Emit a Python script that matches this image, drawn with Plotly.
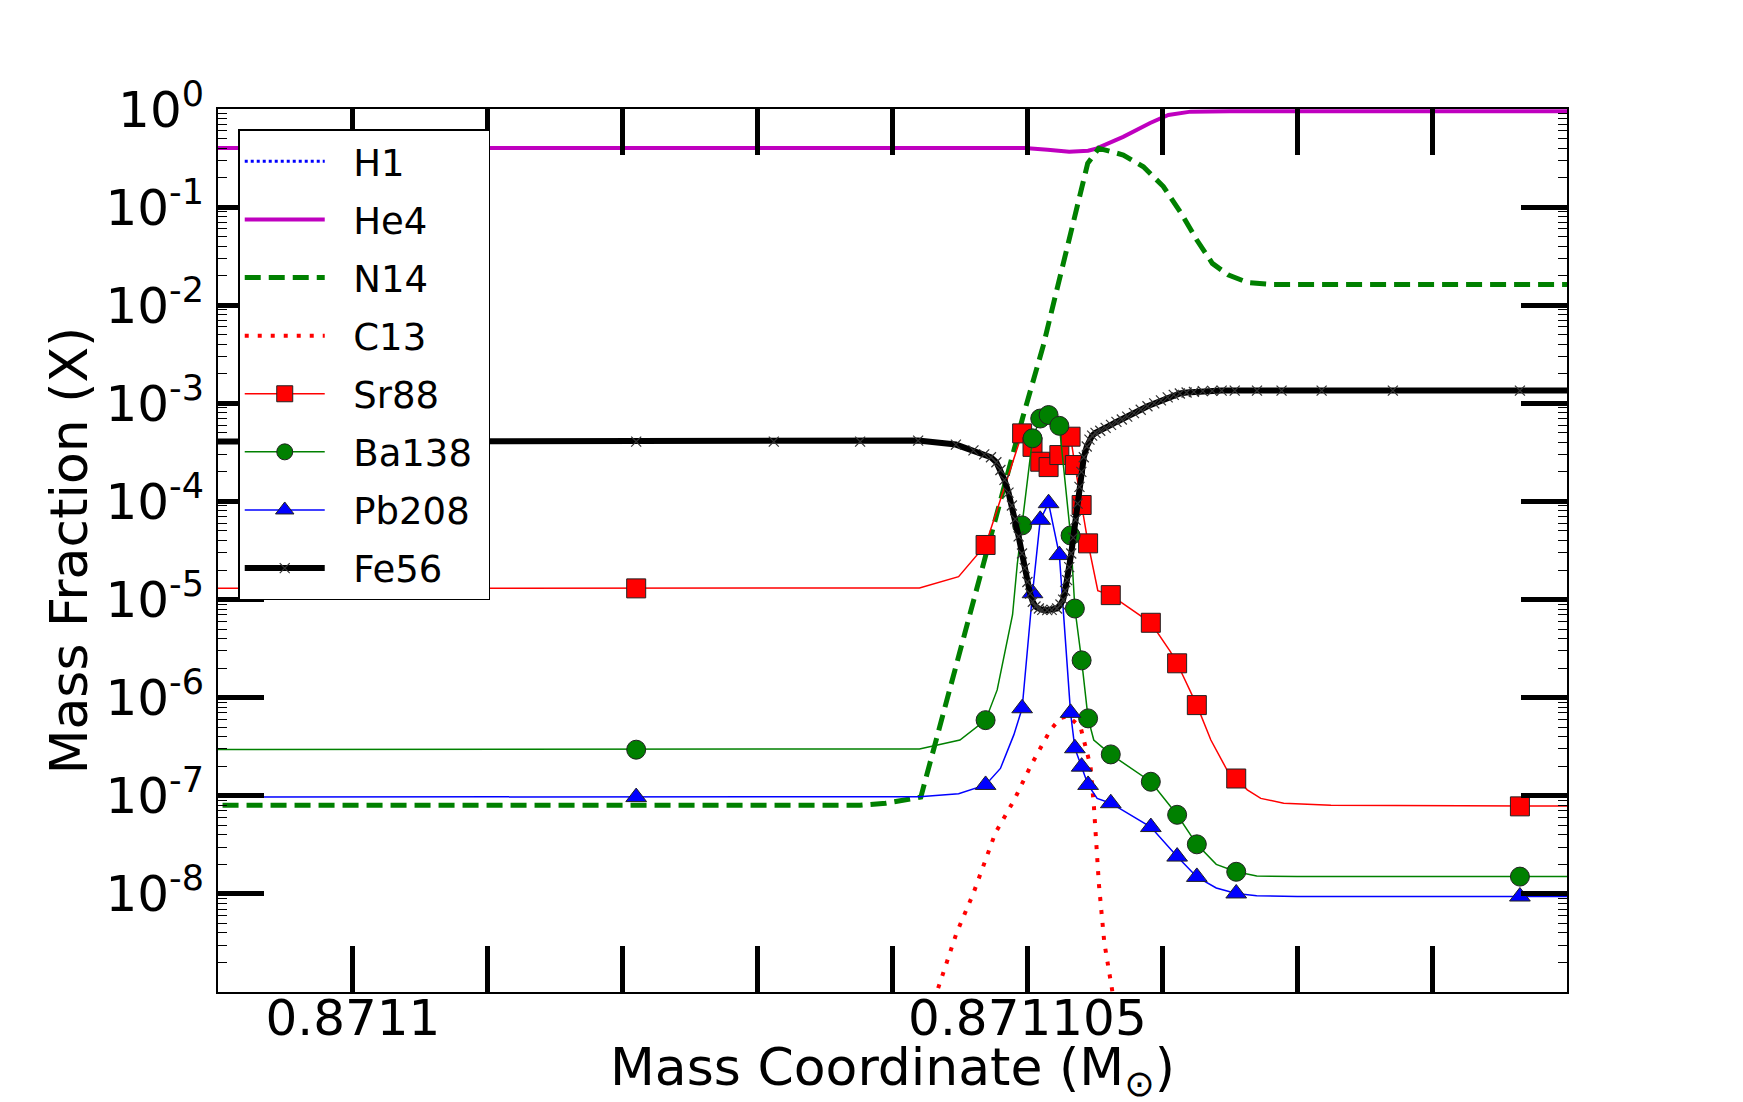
import plotly.graph_objects as go

# mass coordinate is stored as offset from M0 in units of DM (1e-6 Msun)
M0 = 0.8711
DM = 1e-6

# zones where matplotlib put the s-process markers (every Nth zone)
mark_off = [2.10, 4.69, 4.961, 5.038, 5.095, 5.157, 5.237, 5.32, 5.352,
            5.402, 5.45, 5.618, 5.915, 6.11, 6.256, 6.548, 8.651]

sr88_mark = [1.3e-5, 3.6e-5, 4.94e-4, 3.6e-4, 2.54e-4, 2.24e-4, 2.97e-4, 4.57e-4, 2.35e-4,
             9.2e-5, 3.74e-5, 1.11e-5, 5.8e-6, 2.24e-6, 8.4e-7, 1.5e-7, 7.8e-8]
ba138_mark = [2.95e-7, 5.9e-7, 5.7e-5, 4.4e-4, 7.0e-4, 7.6e-4, 5.9e-4, 4.5e-5, 8.1e-6,
              2.4e-6, 6.15e-7, 2.64e-7, 1.39e-7, 6.4e-8, 3.2e-8, 1.68e-8, 1.5e-8]
pb208_mark = [9.7e-8, 1.29e-7, 7.8e-7, 1.16e-5, 6.5e-5, 9.6e-5, 2.84e-5, 7.0e-7, 3.05e-7,
              1.98e-7, 1.29e-7, 8.4e-8, 4.8e-8, 2.4e-8, 1.49e-8, 1.01e-8, 9.4e-9]

# zones in between markers (line only)
sr88_off = [-1.5, 3.12, 3.76, 4.20, 4.49, 5.522, 6.06, 6.36, 6.48, 6.63, 6.73, 6.90, 7.25, 9.5]
sr88_val = [1.3e-5, 1.3e-5, 1.3e-5, 1.31e-5, 1.71e-5, 1.23e-5, 2.95e-6, 3.7e-7, 1.83e-7,
            1.15e-7, 9.4e-8, 8.4e-8, 8.0e-8, 7.8e-8]
ba138_off = [-1.5, 3.12, 3.76, 4.20, 4.50, 4.776, 4.85, 4.89, 4.925, 5.492, 6.40, 6.70, 7.0, 9.5]
ba138_val = [2.95e-7, 2.95e-7, 2.95e-7, 3.0e-7, 3.7e-7, 1.2e-6, 4.0e-6, 7.0e-6, 2.3e-5,
             3.7e-7, 2.0e-8, 1.52e-8, 1.5e-8, 1.5e-8]
pb208_off = [-1.5, 3.12, 3.76, 4.20, 4.49, 4.80, 4.90, 5.517, 6.40, 6.70, 7.0, 9.5]
pb208_val = [9.7e-8, 9.7e-8, 9.7e-8, 9.8e-8, 1.05e-7, 1.9e-7, 4.2e-7, 9.4e-8, 1.15e-8,
             9.6e-9, 9.4e-9, 9.4e-9]

h1_off = [-1.5, 9.5]
h1_val = [0.0, 0.0]

he4_off = [-1.5, 2.10, 4.5, 4.98, 5.15, 5.31, 5.45, 5.51, 5.71, 5.91, 6.045, 6.21, 6.5, 9.5]
he4_val = [0.40, 0.40, 0.40, 0.40, 0.385, 0.367, 0.375, 0.395, 0.52, 0.72, 0.87, 0.94, 0.95, 0.95]

n14_off = [-1.5, 2.10, 3.12, 3.76, 3.95, 4.21, 4.967, 5.116, 5.248, 5.364, 5.447, 5.529,
           5.711, 5.86, 6.008, 6.14, 6.256, 6.371, 6.487, 6.636, 6.801, 9.0]
n14_val = [8.0e-8, 8.0e-8, 8.0e-8, 8.0e-8, 8.4e-8, 9.7e-8, 7.3e-4, 3.8e-3, 0.0211, 0.101, 0.279, 0.398,
           0.34, 0.258, 0.162, 0.0865, 0.0462, 0.0267, 0.0204, 0.0170, 0.0163, 0.0163]

c13_off = [4.20, 4.334, 4.475, 4.598, 4.763, 4.903, 5.023, 5.171, 5.245, 5.30, 5.394, 5.418,
           5.468, 5.493, 5.51, 5.53, 5.57, 5.628, 5.66]
c13_val = [3.5e-10, 1.05e-9, 4.0e-9, 1.0e-8, 4.2e-8, 9.1e-8, 2.0e-7, 4.7e-7, 6.2e-7, 6.5e-7,
           5.0e-7, 3.7e-7, 2.0e-7, 7.8e-8, 3.0e-8, 1.26e-8, 3.2e-9, 1.05e-9, 4.0e-10]

fe56_off = [-1.5, 2.10, 3.12, 3.76, 4.19, 4.47, 4.60, 4.68, 4.73, 4.77, 4.80, 4.83, 4.86,
            4.885, 4.91, 4.935, 4.96, 4.98, 5.00, 5.02, 5.04, 5.06, 5.085, 5.11, 5.147,
            5.18, 5.22, 5.245, 5.265, 5.28, 5.295, 5.31, 5.325, 5.34, 5.357, 5.372, 5.386,
            5.40, 5.418, 5.44, 5.46, 5.48, 5.505, 5.54, 5.58, 5.62, 5.66, 5.70, 5.74, 5.79,
            5.84, 5.89, 5.94, 5.99, 6.04, 6.085, 6.13, 6.18, 6.234, 6.30, 6.37, 6.44,
            6.537, 6.702, 6.884, 7.181, 7.709, 8.651, 9.5]
fe56_val = [4.07e-4, 4.07e-4, 4.07e-4, 4.07e-4, 4.17e-4, 3.80e-4, 3.31e-4, 3.02e-4, 2.82e-4,
            2.51e-4, 2.09e-4, 1.66e-4, 1.23e-4, 9.1e-5, 6.6e-5, 4.4e-5, 2.95e-5, 2.09e-5,
            1.51e-5, 1.15e-5, 9.5e-6, 8.5e-6, 8.1e-6, 7.85e-6, 7.8e-6, 7.85e-6, 8.1e-6,
            8.9e-6, 1.0e-5, 1.23e-5, 1.58e-5, 2.14e-5, 2.95e-5, 4.27e-5, 6.5e-5, 9.5e-5,
            1.41e-4, 2.0e-4, 2.82e-4, 3.63e-4, 4.27e-4, 4.68e-4, 5.0e-4, 5.25e-4, 5.62e-4,
            6.03e-4, 6.46e-4, 6.84e-4, 7.33e-4, 7.94e-4, 8.61e-4, 9.33e-4, 1.0e-3, 1.07e-3,
            1.15e-3, 1.22e-3, 1.26e-3, 1.29e-3, 1.31e-3, 1.33e-3, 1.34e-3, 1.35e-3,
            1.35e-3, 1.35e-3, 1.35e-3, 1.35e-3, 1.35e-3, 1.35e-3, 1.35e-3]

ytick_vals = [1e0, 1e-1, 1e-2, 1e-3, 1e-4, 1e-5, 1e-6, 1e-7, 1e-8]
ytick_text = ["10<sup>0</sup>", "10<sup>-1</sup>", "10<sup>-2</sup>", "10<sup>-3</sup>",
              "10<sup>-4</sup>", "10<sup>-5</sup>", "10<sup>-6</sup>", "10<sup>-7</sup>",
              "10<sup>-8</sup>"]
xtick_off = [-1, 0, 1, 2, 3, 4, 5, 6, 7, 8, 9]
xtick_text = ["", "0.8711", "", "", "", "", "0.871105", "", "", "", ""]


def mass(off):
    return [M0 + o * DM for o in off]


FONT = "DejaVu Sans"
SP = "\u00a0"


def label(name):
    # pad legend text so the box spacing looks like the matplotlib legend
    return SP * 2 + name + SP


fig = go.Figure()

# plain line species
plain = [
    ("H1", h1_off, h1_val, dict(color="#0000ff", width=3, dash="3px,3px")),
    ("He4", he4_off, he4_val, dict(color="#bf00bf", width=4)),
    ("N14", n14_off, n14_val, dict(color="#008000", width=5, dash="16px,8px")),
    ("C13", c13_off, c13_val, dict(color="#ff0000", width=4, dash="4px,9px")),
]
for name, off, val, line in plain:
    fig.add_trace(go.Scatter(x=mass(off), y=val, mode="lines", name=label(name), line=line,
                             legendgroup=name))

# s-process species: thin line through every zone, markers on every Nth zone
spro = [
    ("Sr88", sr88_off, sr88_val, sr88_mark, "#ff0000", "square", 19),
    ("Ba138", ba138_off, ba138_val, ba138_mark, "#008000", "circle", 19),
    ("Pb208", pb208_off, pb208_val, pb208_mark, "#0000ff", "triangle-up", 18),
]
for name, off, val, mk, col, sym, size in spro:
    pts = sorted(zip(off + mark_off, val + mk))
    fig.add_trace(go.Scatter(x=mass([p[0] for p in pts]), y=[p[1] for p in pts],
                             mode="lines", line=dict(color=col, width=1.5),
                             legendgroup=name, showlegend=False, hoverinfo="skip"))
    fig.add_trace(go.Scatter(x=mass(mark_off), y=mk, mode="markers", name=name,
                             marker=dict(symbol=sym, size=size, color=col,
                                         line=dict(color="#222", width=1)),
                             legendgroup=name, showlegend=False))
    # legend entry (line with marker, like matplotlib)
    fig.add_trace(go.Scatter(x=[None], y=[None], mode="lines+markers", name=label(name),
                             line=dict(color=col, width=1.5),
                             marker=dict(symbol=sym, size=size, color=col,
                                         line=dict(color="#222", width=1)),
                             legendgroup=name))

fig.add_trace(go.Scatter(x=mass(fe56_off), y=fe56_val, mode="lines+markers", name=label("Fe56"),
                         line=dict(color="black", width=6),
                         marker=dict(symbol="x-thin", size=10, color="#333",
                                     line=dict(color="#333", width=1.2)),
                         legendgroup="Fe56"))

tick_common = dict(ticks="inside", ticklen=46, tickwidth=5, tickcolor="black",
                   showline=True, linecolor="black", linewidth=2, mirror="ticks",
                   showgrid=False, zeroline=False, automargin=False,
                   tickfont=dict(family=FONT, size=50, color="black"))

# the page puts the figure 8px in from the top-left corner
fig.update_layout(
    width=1735, height=1094,
    margin=dict(l=210, r=176, t=101, b=110),
    paper_bgcolor="white", plot_bgcolor="white",
    font=dict(family=FONT, color="black"),
    xaxis=dict(range=[M0 - DM, M0 + 9 * DM], tickmode="array",
               tickvals=mass(xtick_off), ticktext=xtick_text,
               ticklabelstandoff=-19,
               **tick_common),
    yaxis=dict(type="log", range=[-9, 0], tickmode="array",
               tickvals=ytick_vals, ticktext=ytick_text,
               minor=dict(tickvals=[k * 10.0 ** e for e in range(-9, 0) for k in range(2, 10)],
                          ticks="inside", ticklen=9, tickwidth=1.2, tickcolor="black",
                          showgrid=False),
               ticklabelstandoff=2,
               title=dict(text="Mass Fraction (X)", font=dict(family=FONT, size=52),
                          standoff=1),
               **tick_common),
    legend=dict(x=0.015, y=0.977, xanchor="left", yanchor="top",
                bgcolor="white", bordercolor="black", borderwidth=1.5,
                font=dict(family=FONT, size=37), tracegroupgap=7,
                itemwidth=80, traceorder="grouped"),
    showlegend=True,
)

# x title as an annotation: the axis title is held inside the bottom margin
fig.add_annotation(text="Mass Coordinate (M<sub>⊙</sub>)", xref="paper", yref="paper",
                   x=0.5, y=0, xanchor="center", yanchor="top", yshift=-43,
                   showarrow=False, font=dict(family=FONT, size=52, color="black"))

fig.write_html("out.html")
